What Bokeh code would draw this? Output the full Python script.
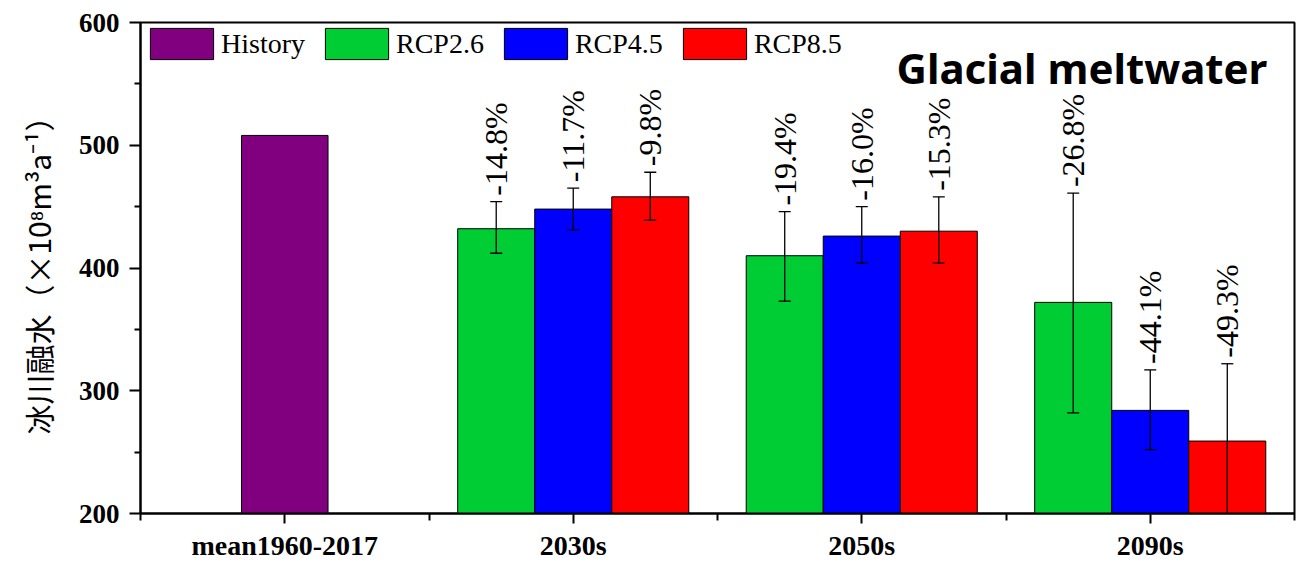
import math
from bokeh.plotting import figure
from bokeh.models import FixedTicker, Legend, LegendItem, Label, LabelSet, ColumnDataSource
from bokeh.embed import file_html
from bokeh.resources import INLINE

# ---- data ----
categories = ["mean1960-2017", "2030s", "2050s", "2090s"]
history_value = 508
rcp26 = [432, 410, 372]
rcp26_upper = [454, 446, 461]
rcp26_lower = [412, 373, 282]
rcp26_pct = ["-14.8%", "-19.4%", "-26.8%"]
rcp45 = [448, 426, 284]
rcp45_upper = [465, 450, 317]
rcp45_lower = [431, 404, 252]
rcp45_pct = ["-11.7%", "-16.0%", "-44.1%"]
rcp85 = [458, 430, 259]
rcp85_upper = [478, 458, 322]
rcp85_lower = [439, 404, 196]
rcp85_pct = ["-9.8%", "-15.3%", "-49.3%"]
y_ticks = [200, 300, 400, 500, 600]

# ---- styles ----
SERIF = "Liberation Serif"
colors = {"History": "#800080", "RCP2.6": "#00cc33", "RCP4.5": "#0000ff", "RCP8.5": "#ff0000"}
bar_w = 0.267
hist_w = 0.3

p = figure(width=1304, height=563, x_range=(0, 4), y_range=(200, 600),
           output_backend="svg", toolbar_location=None,
           min_border_left=140, min_border_right=10, min_border_top=22, min_border_bottom=47)
p.background_fill_color = "white"
p.border_fill_color = "white"
p.xgrid.visible = False
p.ygrid.visible = False
p.outline_line_color = "black"
p.outline_line_width = 2
p.outline_line_alpha = 1

centers = [i + 0.5 for i in range(len(categories))]
group_centers = centers[1:]

r_hist = p.vbar(x=[centers[0]], top=[history_value], bottom=200, width=hist_w,
                fill_color=colors["History"], line_color="black", line_width=1)

renderers = {"History": r_hist}
series = [("RCP2.6", rcp26, rcp26_upper, rcp26_lower, rcp26_pct, -bar_w),
          ("RCP4.5", rcp45, rcp45_upper, rcp45_lower, rcp45_pct, 0.0),
          ("RCP8.5", rcp85, rcp85_upper, rcp85_lower, rcp85_pct, bar_w)]
for name, vals, up, lo, pct, off in series:
    xs = [c + off for c in group_centers]
    src = ColumnDataSource(dict(x=xs, top=vals, up=up, lo=lo, pct=pct))
    r = p.vbar(x="x", top="top", bottom=200, width=bar_w, source=src,
               fill_color=colors[name], line_color="black", line_width=1)
    renderers[name] = r
    p.segment(x0="x", y0="lo", x1="x", y1="up", source=src, line_color="black", line_width=1.3)
    p.scatter(x="x", y="up", source=src, marker="dash", size=12, line_color="black", line_width=1.3)
    p.scatter(x="x", y="lo", source=src, marker="dash", size=12, line_color="black", line_width=1.3)
    p.add_layout(LabelSet(x="x", y="up", text="pct", source=src, angle=math.pi / 2,
                          text_align="left", text_baseline="middle", y_offset=6,
                          text_font=SERIF, text_font_size="32px", text_color="black"))

# ---- axes ----
xa = p.xaxis[0]
xa.ticker = FixedTicker(ticks=centers, minor_ticks=[0, 1, 2, 3, 4])
xa.major_label_overrides = {c: lab for c, lab in zip(centers, categories)}
xa.major_label_text_font = SERIF
xa.major_label_text_font_style = "bold"
xa.major_label_text_font_size = "28px"
xa.major_label_text_color = "black"
xa.major_label_standoff = 6
xa.major_tick_out = 10
xa.major_tick_in = 0
xa.minor_tick_out = 7
xa.minor_tick_in = 0
xa.axis_line_width = 2
xa.major_tick_line_width = 2
xa.minor_tick_line_width = 2

ya = p.yaxis[0]
ya.ticker = FixedTicker(ticks=y_ticks, minor_ticks=[250, 350, 450, 550])
ya.major_label_text_font = SERIF
ya.major_label_text_font_style = "bold"
ya.major_label_text_font_size = "27px"
ya.major_label_text_color = "black"
ya.major_label_standoff = 10
ya.major_tick_out = 11
ya.major_tick_in = 0
ya.minor_tick_out = 6
ya.minor_tick_in = 0
ya.axis_line_width = 2
ya.major_tick_line_width = 2
ya.minor_tick_line_width = 2
ya.axis_label = "冰川融水（×10⁸m³a⁻¹）"
ya.axis_label_text_font = "Noto Sans CJK SC"
ya.axis_label_text_font_style = "normal"
ya.axis_label_text_font_size = "30px"
ya.axis_label_text_color = "black"
ya.axis_label_standoff = 16

# ---- legend ----
legend = Legend(items=[LegendItem(label=k, renderers=[renderers[k]]) for k in ["History", "RCP2.6", "RCP4.5", "RCP8.5"]],
                orientation="horizontal", location="top_left",
                glyph_width=79, glyph_height=39, label_standoff=0, spacing=12,
                margin=2, padding=4, border_line_color=None, background_fill_alpha=0,
                label_text_font=SERIF, label_text_font_size="28px", label_text_color="black")
p.add_layout(legend, "center")

# ---- inner title ----
p.add_layout(Label(x=3.906, y=563, text="Glacial meltwater", text_align="right",
                   text_baseline="alphabetic", text_font="Noto Sans", text_font_style="bold",
                   text_font_size="42px", text_color="black"))

open("out.html", "w").write(file_html(p, INLINE))
